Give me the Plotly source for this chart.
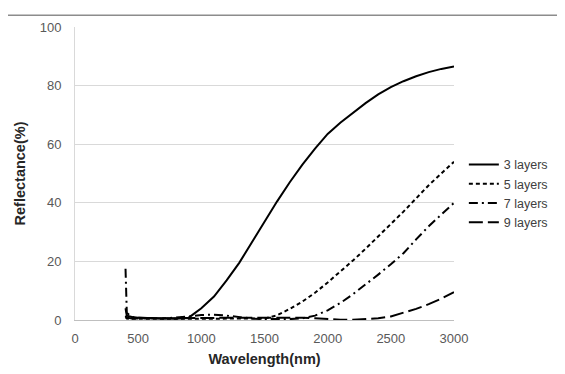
import plotly.graph_objects as go

wavelength = [400, 410, 450, 500, 600, 700, 800, 900, 1000, 1100, 1200, 1300, 1400, 1500,
              1600, 1700, 1800, 1900, 2000, 2100, 2200, 2300, 2400, 2500, 2600, 2700, 2800, 2900, 3000]

layers3 = [4.0, 1.5, 1.0, 0.8, 0.7, 0.5, 0.4, 0.8, 4.0, 8.0, 13.5, 19.5, 26.5, 33.5,
           40.5, 47.0, 53.0, 58.5, 63.5, 67.3, 70.8, 74.0, 77.0, 79.5, 81.5, 83.2, 84.6, 85.7, 86.5]
layers5 = [1.0, 0.5, 0.4, 0.4, 0.3, 0.3, 0.3, 0.3, 0.3, 0.3, 0.3, 0.3, 0.3, 0.5,
           1.6, 3.8, 6.3, 9.3, 12.8, 16.5, 20.3, 24.3, 28.5, 32.7, 37.0, 41.5, 46.0, 50.0, 54.0]
layers7 = [17.5, 2.5, 1.0, 0.8, 0.6, 0.5, 0.8, 1.2, 1.7, 1.8, 1.5, 1.0, 0.5, 0.3,
           0.2, 0.3, 0.6, 1.5, 3.3, 5.8, 8.8, 12.0, 15.5, 19.0, 22.8, 27.5, 32.0, 36.0, 40.0]
layers9 = [1.5, 0.8, 0.5, 0.5, 0.5, 0.5, 0.5, 0.5, 0.6, 0.7, 0.8, 0.8, 0.9, 0.9,
           0.9, 0.9, 0.8, 0.6, 0.3, 0.1, 0.1, 0.3, 0.6, 1.2, 2.4, 3.8, 5.4, 7.3, 9.5]

series = [
    ("3 layers", layers3, "solid"),
    ("5 layers", layers5, "4px,3px"),
    ("7 layers", layers7, "9px,4px,2px,4px"),
    ("9 layers", layers9, "14px,5px"),
]

fig = go.Figure()
for name, vals, dash in series:
    fig.add_trace(go.Scatter(x=wavelength, y=vals, mode="lines", name=name,
                             line=dict(color="black", width=2, dash=dash)))

font_family = "Liberation Sans, Arial, sans-serif"
fig.update_layout(
    width=565, height=374,
    margin=dict(l=65, r=119, t=15, b=62),
    paper_bgcolor="white", plot_bgcolor="white",
    font=dict(family=font_family, size=13, color="#595959"),
    showlegend=True,
    legend=dict(x=1.026, xanchor="left", y=0.581, yanchor="top",
                font=dict(size=12.5, color="#404040"), itemwidth=30,
                bgcolor="rgba(0,0,0,0)", tracegroupgap=0),
    xaxis=dict(range=[0, 3000], tickvals=[0, 500, 1000, 1500, 2000, 2500, 3000],
               showgrid=False, zeroline=False, showline=True, linecolor="#bfbfbf",
               linewidth=1, ticks="", ticklabelstandoff=6,
               tickfont=dict(size=13, color="#595959"),
               title=dict(text="<b>Wavelength(nm)</b>", standoff=9,
                          font=dict(size=14.5, color="#262626"))),
    yaxis=dict(range=[0, 100], tickvals=[0, 20, 40, 60, 80, 100],
               showgrid=True, gridcolor="#d9d9d9", gridwidth=1, zeroline=False,
               showline=True, linecolor="#d9d9d9", linewidth=1, ticks="",
               ticklabelstandoff=10,
               tickfont=dict(size=13, color="#595959"),
               title=dict(text="<b>Reflectance(%)</b>", standoff=10,
                          font=dict(size=14.5, color="#262626"))),
    shapes=[dict(type="line", xref="paper", yref="paper", x0=-0.2, x1=1.35,
                 y0=1.04, y1=1.04, line=dict(color="#8c8c8c", width=1.5))],
)

fig.write_html("out.html")
